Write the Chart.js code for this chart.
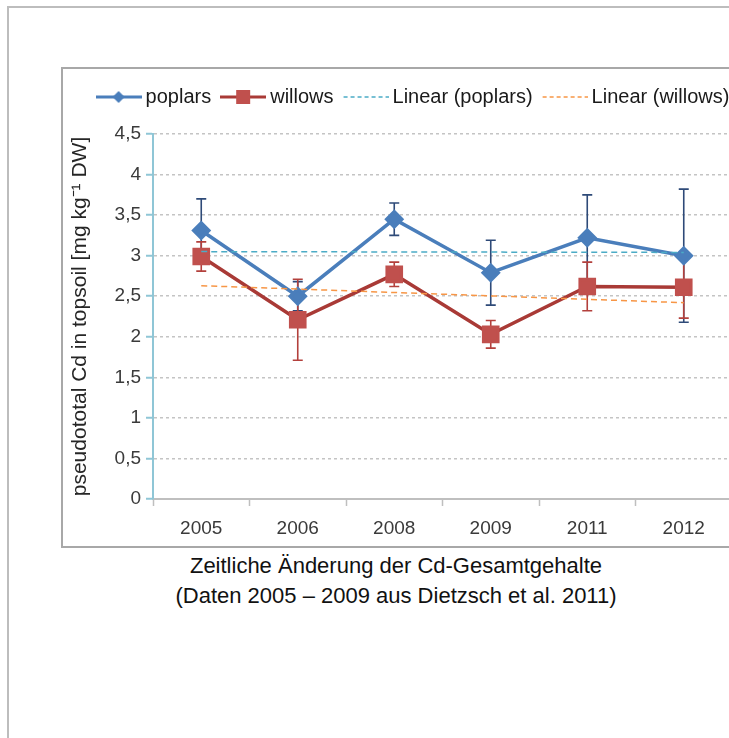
<!DOCTYPE html>
<html>
<head>
<meta charset="utf-8">
<script src="https://cdn.jsdelivr.net/npm/chart.js@4.4.1/dist/chart.umd.min.js"></script>
<style>
  html, body { margin: 0; padding: 0; width: 729px; height: 738px; overflow: hidden; background: #fff; }
  .frame { position: absolute; left: 7px; top: 6px; width: 800px; height: 800px; border: 2px solid #bdbdbd; }
  .box { position: absolute; left: 61px; top: 67px; width: 760px; height: 477px; border: 2px solid #a8a8a8; }
  #chart { position: absolute; left: 63px; top: 72px; }
  .caption { position: absolute; left: 0; top: 551px; width: 792px; text-align: center;
    font-family: 'Liberation Sans Narrow', 'Arial Narrow', 'Liberation Sans', sans-serif;
    font-size: 22px; line-height: 30px; color: #111; }
</style>
</head>
<body>
<div class="frame"></div>
<div class="box"></div>
<canvas id="chart" width="705" height="472"></canvas>
<div class="caption">Zeitliche Änderung der Cd-Gesamtgehalte<br>(Daten 2005 – 2009 aus Dietzsch et al. 2011)</div>
<script>
// values
const years = ['2005', '2006', '2008', '2009', '2011', '2012'];
const poplars = [3.31, 2.50, 3.45, 2.79, 3.22, 3.00];
const poplarsErr = [0.39, 0.18, 0.20, 0.40, 0.53, 0.82];
const willows = [2.99, 2.21, 2.77, 2.03, 2.62, 2.61];
const willowsErr = [0.18, 0.50, 0.15, 0.17, 0.30, 0.38];
// trend line ends (first / last year)
const poplarsTrend = [3.05, 3.04];
const willowsTrend = [2.63, 2.42];
const yTicks = [0, 0.5, 1, 1.5, 2, 2.5, 3, 3.5, 4, 4.5];

const FONT = "'Liberation Sans Narrow', 'Arial Narrow', 'Liberation Sans', sans-serif";
const BLUE = '#4a7ebb';
const RED_LINE = '#a93a36';
const RED = '#c0504d';
const TEAL = '#4bacc6';
const ORANGE = '#f79646';

// little legend symbols: line + marker
function legendIcon(draw) {
  const c = document.createElement('canvas');
  c.width = 46; c.height = 16;
  const g = c.getContext('2d');
  draw(g);
  return c;
}
const iconPoplars = legendIcon((g) => {
  g.strokeStyle = BLUE; g.lineWidth = 3;
  g.beginPath(); g.moveTo(0, 8); g.lineTo(46, 8); g.stroke();
  g.fillStyle = BLUE;
  g.beginPath(); g.moveTo(23, 2); g.lineTo(29, 8); g.lineTo(23, 14); g.lineTo(17, 8); g.closePath(); g.fill();
});
const iconWillows = legendIcon((g) => {
  g.strokeStyle = RED_LINE; g.lineWidth = 3;
  g.beginPath(); g.moveTo(0, 8); g.lineTo(46, 8); g.stroke();
  g.fillStyle = RED;
  g.fillRect(16, 1, 14, 14);
});
const dashIcon = (col) => legendIcon((g) => {
  g.strokeStyle = col; g.lineWidth = 1.5; g.setLineDash([4, 3]);
  g.beginPath(); g.moveTo(1, 8); g.lineTo(46, 8); g.stroke();
});
const legendIcons = [iconPoplars, iconWillows, dashIcon(TEAL), dashIcon(ORANGE)];

const errorBars = {
  id: 'errorBars',
  beforeDatasetsDraw(chart) {
    const { ctx, scales: { y } } = chart;
    const sets = [[2, poplars, poplarsErr, '#2e4a78'], [3, willows, willowsErr, '#b3403c']];
    ctx.save();
    sets.forEach(([idx, vals, errs, col]) => {
      const meta = chart.getDatasetMeta(idx);
      ctx.strokeStyle = col;
      ctx.lineWidth = 1.6;
      meta.data.forEach((pt, i) => {
        const top = y.getPixelForValue(vals[i] + errs[i]);
        const bot = y.getPixelForValue(vals[i] - errs[i]);
        ctx.beginPath();
        ctx.moveTo(pt.x, top); ctx.lineTo(pt.x, bot);
        ctx.moveTo(pt.x - 5, top); ctx.lineTo(pt.x + 5, top);
        ctx.moveTo(pt.x - 5, bot); ctx.lineTo(pt.x + 5, bot);
        ctx.stroke();
      });
    });
    ctx.restore();
  }
};

const legendHeight = {
  id: 'legendHeight',
  beforeInit(chart) {
    const fit = chart.legend.fit;
    chart.legend.fit = function () {
      fit.call(this);
      this.height = 62;
    };
  }
};

new Chart(document.getElementById('chart'), {
  type: 'line',
  data: {
    labels: years,
    datasets: [
      {
        label: 'Linear (poplars)',
        data: [{ x: years[0], y: poplarsTrend[0] }, { x: years[years.length - 1], y: poplarsTrend[1] }],
        borderColor: TEAL, borderWidth: 1.5, borderDash: [6, 4], pointRadius: 0, order: 0,
      },
      {
        label: 'Linear (willows)',
        data: [{ x: years[0], y: willowsTrend[0] }, { x: years[years.length - 1], y: willowsTrend[1] }],
        borderColor: ORANGE, borderWidth: 1.5, borderDash: [6, 4], pointRadius: 0, order: 1,
      },
      {
        label: 'poplars',
        data: poplars,
        borderColor: BLUE, borderWidth: 3.5,
        pointStyle: 'rectRot', pointRadius: 7.5,
        pointBackgroundColor: BLUE, pointBorderColor: BLUE, order: 3,
      },
      {
        label: 'willows',
        data: willows,
        borderColor: RED_LINE, borderWidth: 3.5,
        pointStyle: 'rect', pointRadius: 10,
        pointBackgroundColor: RED, pointBorderColor: RED, order: 2,
      },
    ],
  },
  options: {
    responsive: false,
    animation: false,
    layout: { padding: 0 },
    plugins: {
      legend: {
        position: 'top',
        labels: {
          usePointStyle: true,
          pointStyleWidth: 34,
          padding: 15,
          color: '#1a1a1a',
          font: { family: FONT, size: 20 },
          sort: (a, b) => [2, 3, 0, 1].indexOf(a.datasetIndex) - [2, 3, 0, 1].indexOf(b.datasetIndex),
          generateLabels(chart) {
            const items = Chart.defaults.plugins.legend.labels.generateLabels(chart);
            const map = { 2: 0, 3: 1, 0: 2, 1: 3 };
            items.forEach((it) => { it.pointStyle = legendIcons[map[it.datasetIndex]]; });
            return items;
          },
        },
      },
      tooltip: { enabled: false },
    },
    scales: {
      x: {
        type: 'category',
        offset: true,
        grid: { offset: true, drawOnChartArea: false, drawTicks: true, tickLength: 7, tickColor: '#bfbfbf', tickWidth: 1.5 },
        border: { color: '#bfbfbf', width: 2 },
        ticks: { color: '#3a3a3a', font: { family: FONT, size: 19 }, padding: 11, maxRotation: 0 },
        afterFit(s) { s.height = 45; },
      },
      y: {
        min: 0,
        max: 4.5,
        afterBuildTicks(s) { s.ticks = yTicks.map((v) => ({ value: v })); },
        grid: { color: '#c4c4c4', lineWidth: 1.5, tickColor: '#8fc6d6', tickWidth: 2, tickLength: 7, tickBorderDash: [] },
        border: { color: '#8fc6d6', width: 2, dash: [3, 3] },
        ticks: {
          color: '#3a3a3a',
          font: { family: FONT, size: 19 },
          padding: 5,
          callback: (v) => String(v).replace('.', ','),
        },
        title: {
          display: true,
          text: 'pseudototal Cd in topsoil [mg kg⁻¹ DW]',
          color: '#262626',
          font: { family: FONT, size: 21 },
          padding: { top: 5, bottom: 0 },
        },
        afterFit(s) { s.width = 90; },
      },
      yR: {
        position: 'right',
        display: true,
        grid: { display: false, drawTicks: false },
        border: { display: false },
        ticks: { display: false },
        afterFit(s) { s.width = 36; },
      },
    },
  },
  plugins: [errorBars, legendHeight],
});
</script>
</body>
</html>
